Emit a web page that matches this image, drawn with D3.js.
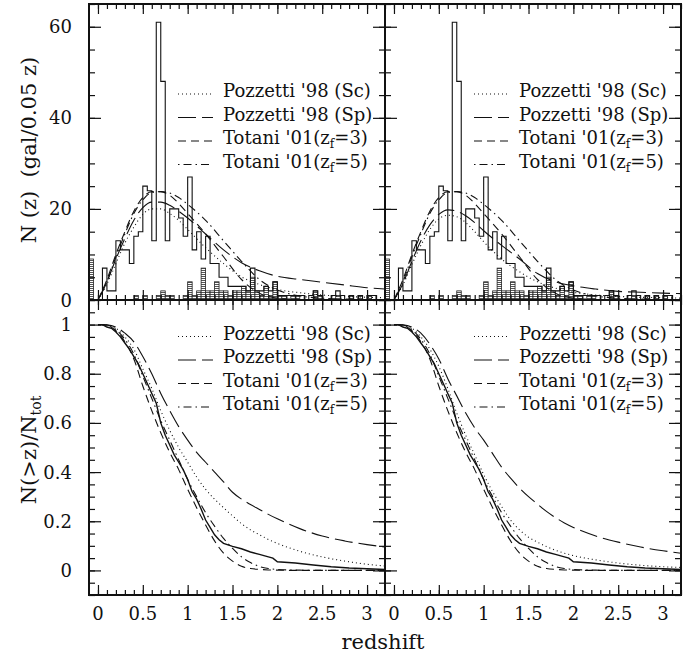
<!DOCTYPE html>
<html>
<head>
<meta charset="utf-8">
<script src="https://cdnjs.cloudflare.com/ajax/libs/d3/7.8.5/d3.min.js"></script>
<style>
  body { margin: 0; background: #fff; }
  text { font-family: "DejaVu Serif", serif; fill: #111; }
</style>
</head>
<body>
<script>
const W = 695, H = 664;

// histogram: bins of 0.05 in z, starting at z = 0 (all galaxies)
const binWidth = 0.05;
const histAll = [0, 7, 2, 2, 13, 11, 11, 8, 14, 15,
                 25, 24, 13, 61, 48, 13, 20, 20, 18, 14,
                 27, 11, 15, 9, 14, 8, 8, 5, 5, 3,
                 3, 3, 3, 2, 7, 2, 2, 3, 2, 4,
                 1, 1, 1, 1, 1, 1, 0, 1, 2, 1,
                 0, 0, 1, 2, 1, 0, 1, 0, 1, 0,
                 1, 1, 0, 0];
// hatched sub-sample, bins of 0.05 starting at z = -0.1
const histSubStart = -0.1;
const histSub = [9, 0,
                 0, 0, 0, 0, 0, 0, 0, 0, 1, 0,
                 1, 0, 0, 1, 2, 1, 1, 0, 0, 1,
                 4, 1, 2, 7, 2, 2, 4, 2, 2, 1,
                 2, 2, 3, 2, 5, 2, 1, 3, 1, 4,
                 1, 1, 0, 1, 1, 0, 0, 0, 2, 1,
                 0, 0, 0, 1, 0, 0, 1, 0, 1, 0,
                 1, 0, 0, 0];

// model N(z) curves (per 0.05 z)
const modelZ   = [0, 0.1, 0.2, 0.3, 0.4, 0.5, 0.6, 0.7, 0.8, 0.9, 1.0, 1.2, 1.4, 1.6, 1.8, 2.0, 2.25, 2.5, 2.75, 3.0, 3.2];
const scTopL   = [0, 3.5, 8, 12.5, 16, 18.8, 20, 20, 19, 17.5, 15.5, 11.5, 8, 5.1, 3.4, 2.3, 1.6, 1.1, 0.8, 0.6, 0.5];
const spTopL   = [0, 4, 9, 13.5, 17.5, 20.3, 21.5, 21.5, 20.8, 19.5, 18, 14.5, 11, 8.2, 6.4, 5.2, 4.5, 3.9, 3.3, 2.7, 2.4];
const scTopR   = [0, 3.3, 7.8, 12, 15.5, 17.8, 18.6, 18.3, 17, 15, 12.8, 9, 6.2, 4, 2.6, 1.7, 1.1, 0.8, 0.6, 0.5, 0.4];
const spTopR   = [0, 3.6, 8.5, 13, 16.5, 18.8, 19.8, 19.5, 18.5, 17, 15.2, 12, 9, 5.8, 4.0, 3.1, 2.4, 1.9, 1.7, 1.5, 1.4];
const t3Top    = [0, 4.5, 10, 15, 19.5, 22.5, 23.8, 23.8, 23, 21.2, 19, 14.5, 9.5, 4.5, 1.5, 0.4, 0.1, 0, 0, 0, 0];
const t5Top    = [0, 4, 9.5, 14.5, 19, 22, 23.6, 23.8, 23.5, 22.5, 21, 17.5, 13, 8.5, 4.5, 2.2, 0.9, 0.4, 0.2, 0.1, 0];

// cumulative N(>z)/Ntot
const obsZ   = [0, 0.05, 0.1, 0.15, 0.2, 0.25, 0.3, 0.35, 0.4, 0.45, 0.5, 0.55, 0.6, 0.65, 0.7, 0.75, 0.8, 0.85, 0.9, 0.95,
                1.0, 1.05, 1.1, 1.15, 1.2, 1.25, 1.3, 1.35, 1.4, 1.5, 1.6, 1.7, 1.8, 1.9, 1.95, 2.0, 2.2, 2.4, 2.6, 2.8, 3.0, 3.2];
const obsCum = [1, 1, 0.99, 0.985, 0.97, 0.95, 0.925, 0.9, 0.87, 0.84, 0.8, 0.76, 0.72, 0.68, 0.6, 0.55, 0.51, 0.47, 0.44, 0.41,
                0.37, 0.32, 0.29, 0.25, 0.205, 0.175, 0.145, 0.125, 0.11, 0.098, 0.088, 0.075, 0.065, 0.055, 0.05, 0.035, 0.03, 0.022, 0.015, 0.01, 0.007, 0.004];
const cumZ   = [0, 0.1, 0.2, 0.3, 0.4, 0.5, 0.6, 0.7, 0.8, 0.9, 1.0, 1.1, 1.2, 1.3, 1.4, 1.5, 1.6, 1.7, 1.8, 1.9, 2.0, 2.25, 2.5, 2.75, 3.0, 3.2];
const scBotL = [1, 0.998, 0.985, 0.95, 0.9, 0.82, 0.74, 0.65, 0.57, 0.5, 0.44, 0.38, 0.33, 0.29, 0.255, 0.222, 0.19, 0.165, 0.145, 0.126, 0.11, 0.078, 0.055, 0.038, 0.025, 0.018];
const spBotL = [1, 0.999, 0.99, 0.965, 0.93, 0.87, 0.8, 0.72, 0.65, 0.585, 0.53, 0.48, 0.44, 0.4, 0.36, 0.318, 0.29, 0.268, 0.248, 0.228, 0.21, 0.17, 0.14, 0.12, 0.105, 0.095];
const scBotR = [1, 0.998, 0.985, 0.95, 0.9, 0.83, 0.74, 0.64, 0.55, 0.47, 0.39, 0.32, 0.26, 0.205, 0.165, 0.135, 0.115, 0.097, 0.082, 0.07, 0.06, 0.043, 0.03, 0.021, 0.015, 0.012];
const spBotR = [1, 0.999, 0.99, 0.965, 0.92, 0.86, 0.78, 0.71, 0.64, 0.58, 0.53, 0.475, 0.42, 0.375, 0.335, 0.3, 0.27, 0.24, 0.215, 0.193, 0.175, 0.14, 0.115, 0.095, 0.08, 0.07];
const t3Bot  = [1, 0.997, 0.975, 0.93, 0.86, 0.75, 0.65, 0.56, 0.48, 0.41, 0.33, 0.255, 0.185, 0.12, 0.07, 0.038, 0.017, 0.008, 0.004, 0.002, 0.001, 0, 0, 0, 0, 0];
const t5Bot  = [1, 0.998, 0.98, 0.94, 0.88, 0.79, 0.70, 0.61, 0.53, 0.45, 0.37, 0.30, 0.235, 0.18, 0.13, 0.09, 0.055, 0.032, 0.016, 0.008, 0.004, 0.001, 0, 0, 0, 0];

const legendNames = ["Pozzetti '98 (Sc)", "Pozzetti '98 (Sp)", "Totani '01(z", "Totani '01(z"];
const legendZf = [null, null, "3", "5"];
const xTickVals = [0, 0.5, 1, 1.5, 2, 2.5, 3];
const xTickLabels = ["0", "0.5", "1", "1.5", "2", "2.5", "3"];
const yTopTicks = [0, 20, 40, 60];
const yTopLabels = ["0", "20", "40", "60"];
const yBotTicks = [0, 0.2, 0.4, 0.6, 0.8, 1];
const yBotLabels = ["0", "0.2", "0.4", "0.6", "0.8", "1"];

// line styles: Sc, Sp, zf=3, zf=5
const dashes = ["1,3", "18,6", "8,5", "1.5,4,8,4"];

const colX = [89, 385];
const colW = 296;
const rows = [{y0: 4, y1: 300}, {y0: 300, y1: 595}];

const svg = d3.select("body").append("svg")
  .attr("width", W).attr("height", H);

const defs = svg.append("defs");
const pat = defs.append("pattern")
  .attr("id", "hatch")
  .attr("patternUnits", "userSpaceOnUse")
  .attr("width", 4).attr("height", 2);
pat.append("rect").attr("width", 4).attr("height", 2).attr("fill", "#fff");
pat.append("rect").attr("width", 4).attr("height", 1).attr("fill", "#555");

function drawPanel(ci, ri) {
  const x0 = colX[ci];
  const r = rows[ri];
  const x = d3.scaleLinear().domain([-0.1, 3.2]).range([x0, x0 + colW]);
  const y = ri === 0
    ? d3.scaleLinear().domain([0, 65]).range([r.y1, r.y0])
    : d3.scaleLinear().domain([-0.1, 1.1]).range([r.y1, r.y0]);

  const id = "clip" + ci + ri;
  defs.append("clipPath").attr("id", id)
    .append("rect").attr("x", x0).attr("y", r.y0)
    .attr("width", colW).attr("height", r.y1 - r.y0);

  const g = svg.append("g").attr("clip-path", `url(#${id})`);

  const line = (xs, ys) => d3.line()
    .x((d, i) => x(xs[i])).y(d => y(d))
    .curve(d3.curveMonotoneX)(ys);

  let series;
  if (ri === 0) {
    // hatched sub-sample
    g.selectAll("rect.sub")
      .data(histSub.map((n, i) => ({z: histSubStart + i * binWidth, n})).filter(d => d.n > 0))
      .join("rect")
      .attr("x", d => x(d.z))
      .attr("width", d => x(d.z + binWidth) - x(d.z))
      .attr("y", d => y(d.n))
      .attr("height", d => y(0) - y(d.n))
      .attr("fill", "url(#hatch)")
      .attr("stroke", "#222")
      .attr("stroke-width", 0.8);

    // open histogram outline
    const pts = histAll.map((n, i) => [i * binWidth, n]);
    pts.push([histAll.length * binWidth, 0]);
    g.append("path")
      .attr("d", d3.line().x(d => x(d[0])).y(d => y(d[1])).curve(d3.curveStepAfter)(pts))
      .attr("fill", "none").attr("stroke", "#111").attr("stroke-width", 1.1);

    series = ci === 0 ? [scTopL, spTopL, t3Top, t5Top] : [scTopR, spTopR, t3Top, t5Top];
    series.forEach((s, k) => {
      g.append("path").attr("d", line(modelZ, s))
        .attr("fill", "none").attr("stroke", "#111").attr("stroke-width", 1.1)
        .attr("stroke-dasharray", dashes[k]);
    });
  } else {
    series = ci === 0 ? [scBotL, spBotL, t3Bot, t5Bot] : [scBotR, spBotR, t3Bot, t5Bot];
    series.forEach((s, k) => {
      g.append("path").attr("d", line(cumZ, s))
        .attr("fill", "none").attr("stroke", "#111").attr("stroke-width", 1.1)
        .attr("stroke-dasharray", dashes[k]);
    });
    g.append("path")
      .attr("d", d3.line().x((d, i) => x(obsZ[i])).y(d => y(d))(obsCum))
      .attr("fill", "none").attr("stroke", "#111").attr("stroke-width", 1.4);
  }

  // ticks on all four sides, pointing inward
  const xMinor = d3.ticks(0, 3.2, 32);
  const yMinor = ri === 0 ? d3.ticks(0, 65, 13) : d3.ticks(-0.1, 1.1, 24);
  const yMajor = ri === 0 ? yTopTicks : yBotTicks;
  const tickGroup = (axis, tx, ty) => svg.append("g")
    .attr("transform", `translate(${tx},${ty})`)
    .call(axis.tickFormat(""))
    .call(a => a.select(".domain").remove())
    .call(a => a.selectAll("line").attr("stroke", "#111").attr("stroke-width", 1.2));

  [[xMinor, 5], [xTickVals, 10]].forEach(([vals, len]) => {
    tickGroup(d3.axisBottom(x).tickValues(vals).tickSize(-len), 0, r.y1);
    tickGroup(d3.axisTop(x).tickValues(vals).tickSize(-len), 0, r.y0);
  });
  [[yMinor, 6], [yMajor, 12]].forEach(([vals, len]) => {
    tickGroup(d3.axisLeft(y).tickValues(vals).tickSize(-len), x0, 0);
    tickGroup(d3.axisRight(y).tickValues(vals).tickSize(-len), x0 + colW, 0);
  });

  // frame
  svg.append("rect")
    .attr("x", x0).attr("y", r.y0)
    .attr("width", colW).attr("height", r.y1 - r.y0)
    .attr("fill", "none").attr("stroke", "#111").attr("stroke-width", 2);

  // legend
  const base = ri === 0 ? [97, 120.5, 144, 167.5] : [339.5, 363, 386.5, 410];
  legendNames.forEach((name, k) => {
    svg.append("line")
      .attr("x1", x0 + 89).attr("x2", x0 + 124)
      .attr("y1", base[k] - 3).attr("y2", base[k] - 3)
      .attr("stroke", "#111").attr("stroke-width", 1.1)
      .attr("stroke-dasharray", dashes[k]);
    const t = svg.append("text")
      .attr("x", x0 + 134).attr("y", base[k])
      .attr("font-size", 18)
      .style("white-space", "pre");
    t.append("tspan").text(name);
    if (legendZf[k]) {
      t.append("tspan").attr("dy", 4).attr("font-size", 12).text("f");
      t.append("tspan").attr("dy", -4).text("=" + legendZf[k] + ")");
    }
  });

  // tick labels
  if (ci === 0) {
    const labs = ri === 0 ? yTopLabels : yBotLabels;
    yMajor.forEach((v, i) => {
      svg.append("text")
        .attr("x", 72).attr("y", y(v) + 6.5)
        .attr("text-anchor", "end").attr("font-size", 18)
        .text(labs[i]);
    });
  }
  if (ri === 1) {
    xTickVals.forEach((v, i) => {
      svg.append("text")
        .attr("x", x(v)).attr("y", 620)
        .attr("text-anchor", "middle").attr("font-size", 18)
        .text(xTickLabels[i]);
    });
  }
}

[0, 1].forEach(ri => [0, 1].forEach(ci => drawPanel(ci, ri)));

// axis titles
svg.append("text")
  .attr("transform", "translate(36,150) rotate(-90)")
  .attr("text-anchor", "middle").attr("font-size", 21)
  .style("white-space", "pre")
  .text("N (z)  (gal/0.05 z)");

const t2 = svg.append("text")
  .attr("transform", "translate(36,450) rotate(-90)")
  .attr("text-anchor", "middle").attr("font-size", 21);
t2.append("tspan").text("N(>z)/N");
t2.append("tspan").attr("dy", 5).attr("font-size", 14).text("tot");

svg.append("text")
  .attr("x", 383).attr("y", 649)
  .attr("text-anchor", "middle").attr("font-size", 21)
  .text("redshift");
</script>
</body>
</html>
